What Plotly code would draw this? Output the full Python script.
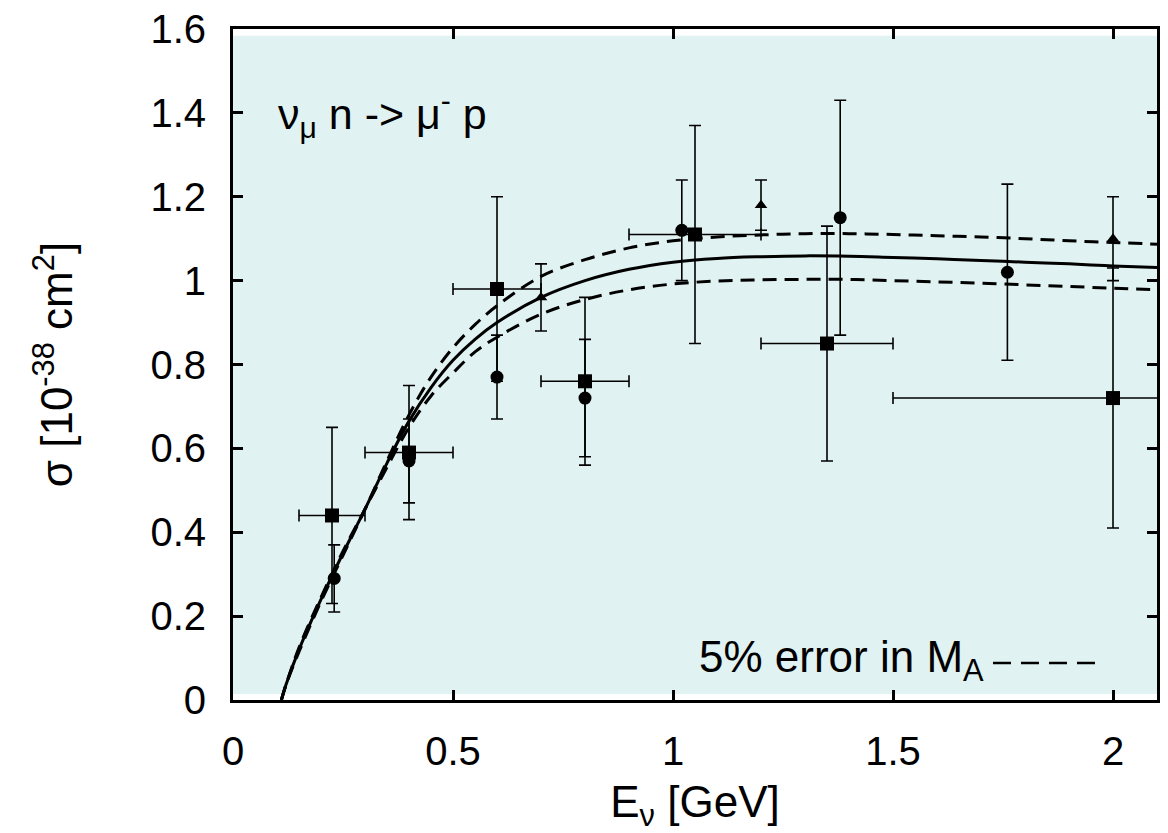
import plotly.graph_objects as go

# ---- data ----
# squares
sq_x = [0.225, 0.40, 0.60, 0.80, 1.05, 1.35, 2.00]
sq_y = [0.44, 0.59, 0.98, 0.76, 1.11, 0.85, 0.72]
sq_yerr = [0.21, 0.16, 0.22, 0.20, 0.26, 0.28, 0.31]
sq_xerr = [0.075, 0.10, 0.10, 0.10, 0.15, 0.15, 0.50]
# circles
ci_x = [0.23, 0.40, 0.60, 0.80, 1.02, 1.38, 1.76]
ci_y = [0.29, 0.57, 0.77, 0.72, 1.12, 1.15, 1.02]
ci_yerr = [0.08, 0.10, 0.10, 0.14, 0.12, 0.28, 0.21]
# triangles
tr_x = [0.70, 1.20, 2.00]
tr_y = [0.96, 1.18, 1.10]
tr_yerr = [0.08, 0.06, 0.10]

# theory curves
e_nu = [0.11, 0.12, 0.15, 0.2, 0.25, 0.3, 0.35, 0.4, 0.45, 0.5, 0.55, 0.6, 0.7, 0.8,
        0.9, 1.0, 1.1, 1.2, 1.3, 1.4, 1.5, 1.6, 1.7, 1.8, 1.9, 2.0, 2.1]
sigma_central = [0, 0.035, 0.12, 0.24, 0.35, 0.455, 0.565, 0.665, 0.745, 0.81, 0.86, 0.90,
                 0.96, 1.0, 1.027, 1.044, 1.053, 1.057, 1.059, 1.058, 1.055, 1.052, 1.048,
                 1.044, 1.04, 1.035, 1.031]
sigma_upper = [0, 0.035, 0.115, 0.235, 0.345, 0.455, 0.57, 0.68, 0.77, 0.84, 0.895, 0.94,
               1.01, 1.05, 1.078, 1.095, 1.104, 1.109, 1.112, 1.112, 1.11, 1.107, 1.104,
               1.1, 1.095, 1.091, 1.087]
sigma_lower = [0, 0.035, 0.125, 0.245, 0.355, 0.455, 0.555, 0.65, 0.725, 0.78, 0.83, 0.865,
               0.92, 0.955, 0.978, 0.992, 0.999, 1.002, 1.003, 1.003, 1.0, 0.997, 0.994,
               0.99, 0.986, 0.982, 0.978]

x_tickvals = [0, 0.5, 1, 1.5, 2]
x_ticktext = ["0", "0.5", "1", "1.5", "2"]
y_tickvals = [0, 0.2, 0.4, 0.6, 0.8, 1.0, 1.2, 1.4, 1.6]
y_ticktext = ["0", "0.2", "0.4", "0.6", "0.8", "1", "1.2", "1.4", "1.6"]

FONT = "Liberation Sans, Arial, Helvetica, sans-serif"
BG = "#E0F2F1"

fig = go.Figure()

# curves
fig.add_trace(go.Scatter(x=e_nu, y=sigma_upper, mode="lines", line_shape="spline",
                         line=dict(color="black", width=3, dash="14px,8px"), showlegend=False))
fig.add_trace(go.Scatter(x=e_nu, y=sigma_lower, mode="lines", line_shape="spline",
                         line=dict(color="black", width=3, dash="14px,8px"), showlegend=False))
fig.add_trace(go.Scatter(x=e_nu, y=sigma_central, mode="lines", line_shape="spline",
                         line=dict(color="black", width=3), showlegend=False))

err_style = dict(color="black", thickness=1.6, width=6)

fig.add_trace(go.Scatter(
    x=sq_x, y=sq_y, mode="markers",
    marker=dict(symbol="square", size=14, color="black"),
    error_y=dict(type="data", array=sq_yerr, **err_style),
    error_x=dict(type="data", array=sq_xerr, **err_style),
    showlegend=False))
fig.add_trace(go.Scatter(
    x=ci_x, y=ci_y, mode="markers",
    marker=dict(symbol="circle", size=13, color="black"),
    error_y=dict(type="data", array=ci_yerr, **err_style),
    showlegend=False))
fig.add_trace(go.Scatter(
    x=tr_x, y=tr_y, mode="markers",
    marker=dict(symbol="triangle-up", size=11, color="black"),
    error_y=dict(type="data", array=tr_yerr, **err_style),
    showlegend=False))

axis_common = dict(
    showline=True, linecolor="black", linewidth=3, mirror="ticks",
    ticks="inside", ticklen=10, tickwidth=2.5, tickcolor="black",
    showgrid=False, zeroline=False,
    tickfont=dict(family=FONT, size=40, color="black"),
)

fig.update_layout(
    width=1168, height=833,
    margin=dict(l=233, r=11, t=29, b=133, autoexpand=False),
    paper_bgcolor="white", plot_bgcolor="white",
    font=dict(family=FONT, color="black"),
    xaxis=dict(range=[0, 2.1], tickvals=x_tickvals, ticktext=x_ticktext,
               ticklabelstandoff=14,
               title=dict(text="E<sub>ν</sub> [GeV]", font=dict(family=FONT, size=44), standoff=16),
               **axis_common),
    yaxis=dict(range=[0, 1.6], tickvals=y_tickvals, ticktext=y_ticktext,
               ticklabelstandoff=16,
               title=dict(text="σ [10<sup>-38</sup> cm<sup>2</sup>]", font=dict(family=FONT, size=44), standoff=64),
               **axis_common),
    shapes=[
        dict(type="rect", xref="x domain", yref="y domain", x0=0, x1=1, y0=0.009, y1=0.99,
             fillcolor=BG, line=dict(width=0), layer="below"),
        dict(type="line", xref="x domain", yref="y domain", x0=0.8225, x1=0.9437, y0=0.055, y1=0.055,
             line=dict(color="black", width=2.5, dash="18px,10px")),
    ],
    annotations=[
        dict(text="ν<sub>μ</sub> n -> μ<sup>-</sup> p", xref="x domain", yref="y domain",
             x=0.047, y=0.873, xanchor="left", yanchor="middle", showarrow=False,
             font=dict(family=FONT, size=43, color="black")),
        dict(text="5% error in M<sub>A</sub>", xref="x domain", yref="y domain",
             x=0.502, y=0.06, xanchor="left", yanchor="middle", showarrow=False,
             font=dict(family=FONT, size=44, color="black")),
    ],
)

fig.write_html("out.html")
